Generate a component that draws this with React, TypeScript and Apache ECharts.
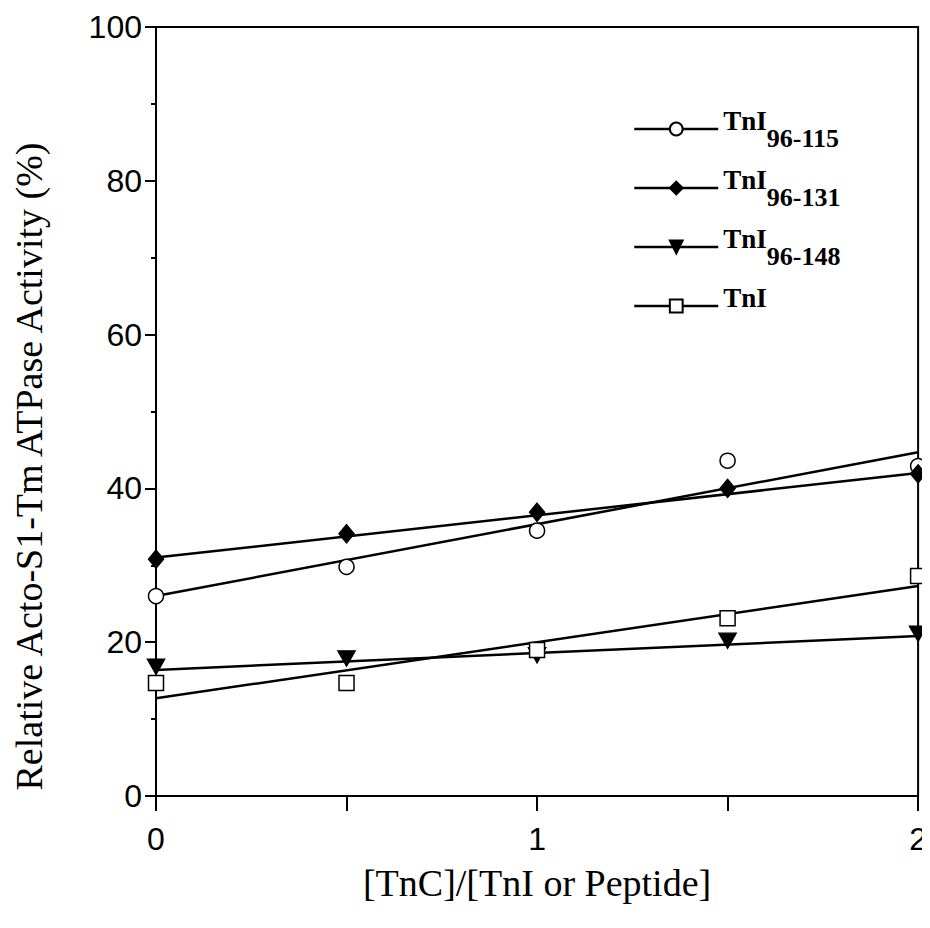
import React, { useEffect, useRef } from "react";
import * as echarts from "echarts";

const xValues = [0, 0.5, 1, 1.5, 2];
const seriesNames = ["TnI96-115", "TnI96-131", "TnI96-148", "TnI"];
const tnI96_115 = [26.0, 29.8, 34.5, 43.6, 42.9];
const tnI96_131 = [30.8, 34.1, 36.9, 40.0, 41.9];
const tnI96_148 = [16.8, 17.9, 18.3, 20.2, 21.1];
const tnIFull = [14.7, 14.7, 19.0, 23.1, 28.6];
const fitX = [0, 2];
const fit115 = [26.0, 44.7];
const fit131 = [31.0, 42.0];
const fit148 = [16.4, 20.8];
const fitTnI = [12.7, 27.3];
const xTickLabels = ["0", "1", "2"];
const yTickLabels = ["0", "20", "40", "60", "80", "100"];

const pts = (xs: number[], ys: number[]) => xs.map((x, i) => [x, ys[i]]);

export default function App() {
  const ref = useRef<HTMLDivElement>(null);
  useEffect(() => {
    const chart = echarts.init(ref.current!, null, { renderer: "svg" });
    const serif = "Liberation Serif";
    const sans = "Liberation Sans";
    const symbols = [
      { symbol: "circle", size: 15, rotate: 0, fill: "#fff" },
      { symbol: "diamond", size: [15, 18], rotate: 0, fill: "#000" },
      { symbol: "triangle", size: [17, 15], rotate: 180, fill: "#000" },
      { symbol: "rect", size: 15, rotate: 0, fill: "#fff" },
    ];
    const dataSets = [tnI96_115, tnI96_131, tnI96_148, tnIFull];
    const fits = [fit115, fit131, fit148, fitTnI];
    const series: any[] = [];
    seriesNames.forEach((name, i) => {
      const s = symbols[i];
      series.push({
        name,
        type: "line",
        data: pts(fitX, fits[i]),
        showSymbol: false,
        symbol: s.symbol,
        symbolSize: s.size,
        symbolRotate: s.rotate,
        lineStyle: { color: "#000", width: 2.5 },
        itemStyle: { color: s.fill, borderColor: "#000", borderWidth: 1.5, opacity: 1 },
        z: 2,
      });
      series.push({
        name: name + " data",
        type: "scatter",
        data: pts(xValues, dataSets[i]),
        symbol: s.symbol,
        symbolSize: s.size,
        symbolRotate: s.rotate,
        itemStyle: { color: s.fill, borderColor: "#000", borderWidth: 1.5, opacity: 1 },
        emphasis: { disabled: true },
        z: 3,
      });
    });
    chart.setOption({
      animation: false,
      backgroundColor: "#fff",
      grid: {
        left: 156,
        right: 10,
        top: 27,
        bottom: 132,
        show: true,
        borderColor: "#000",
        borderWidth: 2,
        backgroundColor: "transparent",
      },
      legend: {
        data: seriesNames,
        orient: "vertical",
        left: 628,
        top: 102,
        itemWidth: 84,
        itemHeight: 16,
        itemGap: 15,
        selectedMode: false,
        lineStyle: { width: 2.5, color: "#000" },
        formatter: (n: string) =>
          n.length > 3 ? `{a|TnI}{b|${n.slice(3)}}` : `{a|TnI}{c| }`,
        textStyle: {
          rich: {
            a: { fontFamily: serif, fontWeight: "bold", fontSize: 27, color: "#000", verticalAlign: "top", lineHeight: 44 },
            b: { fontFamily: serif, fontWeight: "bold", fontSize: 26, color: "#000", verticalAlign: "bottom", lineHeight: 44 },
            c: { fontFamily: serif, fontSize: 26, lineHeight: 44 },
          },
        },
      },
      xAxis: {
        type: "value",
        min: 0,
        max: 2,
        interval: 0.5,
        name: "[TnC]/[TnI or Peptide]",
        nameLocation: "middle",
        nameGap: 68,
        nameTextStyle: { fontFamily: serif, fontSize: 38, color: "#000" },
        axisLine: { lineStyle: { color: "#000", width: 2 } },
        axisTick: { length: 15, lineStyle: { color: "#000", width: 2 } },
        axisLabel: {
          margin: 27,
          fontFamily: sans,
          fontSize: 32,
          color: "#000",
          formatter: (v: number) =>
            Number.isInteger(v) ? xTickLabels[v] : "",
        },
        splitLine: { show: false },
      },
      yAxis: {
        type: "value",
        min: 0,
        max: 100,
        interval: 20,
        name: "Relative Acto-S1-Tm ATPase Activity (%)",
        nameLocation: "middle",
        nameGap: 108,
        nameTextStyle: {
          fontFamily: serif,
          fontSize: 38,
          color: "#000",
          padding: [0, 110, 0, 0],
        },
        axisLine: { lineStyle: { color: "#000", width: 2 } },
        axisTick: { length: 11, lineStyle: { color: "#000", width: 2 } },
        minorTick: { show: true, splitNumber: 2, length: 5, lineStyle: { color: "#000", width: 2 } },
        axisLabel: {
          margin: 14,
          fontFamily: sans,
          fontSize: 32,
          color: "#000",
          formatter: (v: number) => yTickLabels[v / 20],
        },
        splitLine: { show: false },
      },
      series,
    });
    return () => chart.dispose();
  }, []);
  return <div ref={ref} style={{ width: 930, height: 928, margin: -8 }} />;
}
